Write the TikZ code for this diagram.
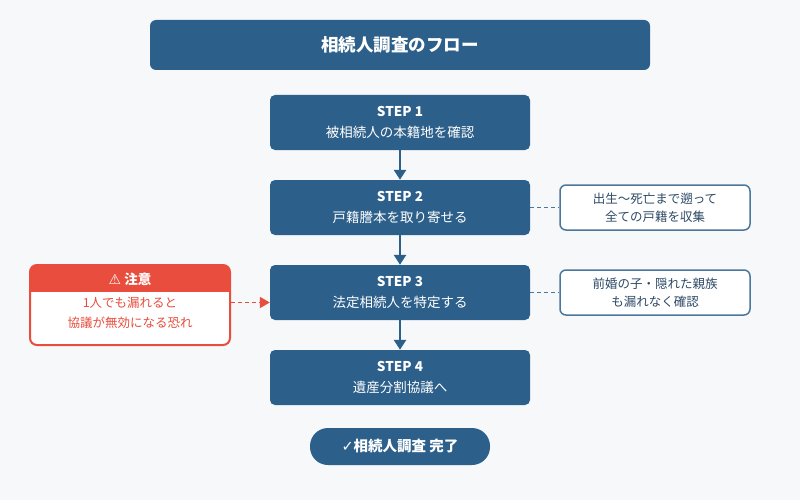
\documentclass[tikz,border=0pt]{standalone}
\usepackage{fontspec}
\setmainfont{Noto Sans CJK JP}
\newfontfamily\symfont{DejaVu Sans}
\definecolor{stepblue}{HTML}{2C5F8A}
\definecolor{warnred}{HTML}{E84D3D}
\definecolor{notetext}{HTML}{2E4A66}
\definecolor{bgpaper}{HTML}{F7F8FA}
\usetikzlibrary{arrows.meta}
\tikzset{
  stepbox/.style={fill=stepblue,rounded corners=5pt,minimum width=260pt,minimum height=55pt,text=white,align=center,font=\fontsize{13.5}{21}\selectfont},
  note/.style={draw=stepblue!85,line width=1.5pt,fill=white,rounded corners=6pt,minimum width=190pt,minimum height=45pt,align=center,text=notetext,font=\fontsize{12.5}{18}\selectfont},
  flow/.style={stepblue,line width=2.5pt,-{Triangle[length=10pt,width=12pt]}},
  link/.style={stepblue!85,line width=1.8pt,dash pattern=on 4pt off 3pt},
}
\begin{document}
\begin{tikzpicture}[x=1pt,y=-1pt]
\fill[bgpaper] (0,0) rectangle (800,500);
\useasboundingbox (0,0) rectangle (800,500);
\node[fill=stepblue,rounded corners=6pt,minimum width=500pt,minimum height=50pt,text=white,font=\fontsize{17.5}{20}\selectfont\bfseries] (title) at (400,45) {相続人調査のフロー};
\node[stepbox] (s1) at (400,122.5) {\textbf{STEP 1}\\被相続人の本籍地を確認};
\node[stepbox] (s2) at (400,207.5) {\textbf{STEP 2}\\戸籍謄本を取り寄せる};
\node[stepbox] (s3) at (400,292.5) {\textbf{STEP 3}\\法定相続人を特定する};
\node[stepbox] (s4) at (400,377.5) {\textbf{STEP 4}\\遺産分割協議へ};
\foreach \a/\b in {s1/s2,s2/s3,s3/s4}
  \draw[flow] (\a) -- (\b);
% notes
\node[note] (n1) at (655,207.5) {出生〜死亡まで遡って\\全ての戸籍を収集};
\node[note] (n2) at (655,292.5) {前婚の子・隠れた親族\\も漏れなく確認};
\draw[link] (s2) -- (n1);
\draw[link] (s3) -- (n2);
% warning
\node[draw=warnred,line width=2pt,fill=white,rounded corners=7pt,minimum width=200pt,minimum height=80pt] (warn) at (130,305) {};
\begin{scope}
\clip[rounded corners=7pt] (30,265) rectangle (230,345);
\fill[warnred] (30,265) rectangle (230,292);
\end{scope}
\node[text=white,font=\fontsize{13.5}{16}\selectfont\bfseries] (wt) at (130,279) {{\symfont\fontsize{14}{16}\selectfont ⚠} 注意};
\node[text=warnred,align=center,font=\fontsize{12.5}{20}\selectfont] (wb) at (130,313) {1人でも漏れると\\協議が無効になる恐れ};
\coordinate (wa) at (231,302.5);
\draw[warnred,line width=1.8pt,dash pattern=on 4pt off 3pt,-{Triangle[length=10pt,width=11pt]}] (wa) -- (s3.west |- wa);
% done
\node[fill=stepblue,rounded corners=18pt,minimum width=180pt,minimum height=37pt,text=white,font=\fontsize{14.5}{18}\selectfont\bfseries] (done) at (400,446.5) {{\symfont ✓}相続人調査 完了};
\end{tikzpicture}
\end{document}
